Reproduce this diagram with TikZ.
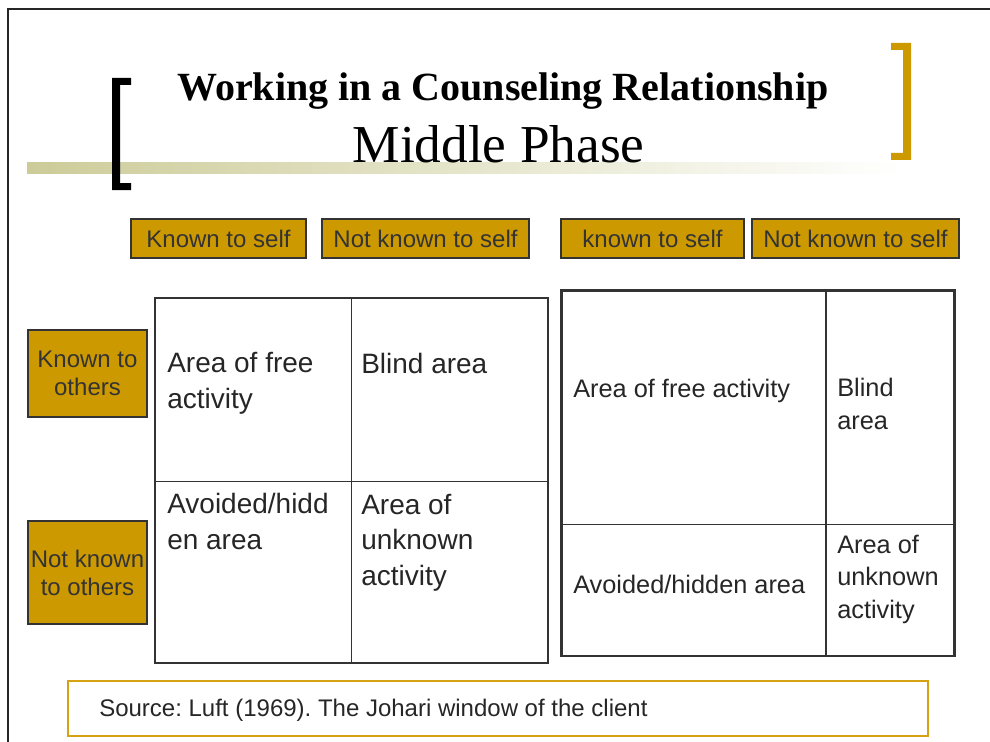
\documentclass[tikz,border=0pt]{standalone}
\usepackage{fontspec}
\setmainfont{Liberation Sans}
\newfontfamily\titlefont{Liberation Serif}
\usepackage{tikz}
\frenchspacing

\definecolor{goldfill}{RGB}{204,153,0}
\definecolor{goldline}{RGB}{214,162,20}
\definecolor{khaki}{RGB}{204,204,153}
\definecolor{edgegray}{RGB}{51,51,51}

\begin{document}
\begin{tikzpicture}
                \tikzset{x={(0.75pt, 0pt)}, y={(0pt, -0.75pt)}}
                \tikzset{labelbox/.style={draw=edgegray, fill=goldfill, line width=1.5pt},
                         lbltext/.style={font=\fontsize{18}{21}\selectfont, text=edgegray, align=center},
                         gridouter/.style={draw=edgegray, line width=2pt},
                         gridinner/.style={draw=edgegray, line width=1.2pt},
                         cellL/.style={anchor=base west, align=left, inner sep=0pt, text=black!85,
                                       font=\fontsize{21}{26.6}\selectfont},
                         cellR/.style={anchor=base west, align=left, inner sep=0pt, text=black!85,
                                       font=\fontsize{19}{24.2}\selectfont}}
                \useasboundingbox (0, 0) rectangle (990, 742);
                % page frame
                \draw[line width=1.5pt, black!85] (990, 9.5) -- (8.3, 9.5) -- (8.3, 742);
                % heading
                \shade[left color=khaki, middle color=khaki!85!white, right color=white] (27, 163) rectangle (905, 174);
                \fill[black] (112, 78) -- (131, 78) -- (131, 85) -- (120, 85) -- (120, 183) -- (131, 183) -- (131, 190) -- (112, 190) -- cycle;
                \fill[goldfill] (911, 43) -- (891, 43) -- (891, 50) -- (903, 50) -- (903, 153) -- (891, 153) -- (891, 160) -- (911, 160) -- cycle;
                \node[anchor=base, font=\titlefont\bfseries\fontsize{30}{36}\selectfont] (title) at (503, 101) {Working in a Counseling Relationship};
                \node[anchor=base, font=\titlefont\fontsize{40}{48}\selectfont] (phase) at (498.5, 162) {Middle Phase};
                % column and row labels
                \draw[labelbox] (131, 219) rectangle (306, 258) node[midway, lbltext] (kself1) {Known to self};
                \draw[labelbox] (322, 219) rectangle (529, 258) node[midway, lbltext] (nkself1) {Not known to self};
                \draw[labelbox] (561, 219) rectangle (744, 258) node[midway, lbltext] (kself2) {known to self};
                \draw[labelbox] (752, 219) rectangle (959, 258) node[midway, lbltext] (nkself2) {Not known to self};
                \draw[labelbox] (28, 330) rectangle (147, 417) node[midway, lbltext] (kothers) {Known to\\others};
                \draw[labelbox] (28, 521) rectangle (147, 624) node[midway, lbltext] (nkothers) {Not known\\to others};
                % left window (base = last line)
                \draw[gridouter] (155, 298) rectangle (548, 663);
                \draw[gridinner] (351.5, 298) -- (351.5, 663);
                \draw[gridinner] (155, 481.5) -- (548, 481.5);
                \node[cellL] (free1) at (167, 408) {Area of free\\activity};
                \node[cellL] (blind1) at (361, 373) {Blind area};
                \node[cellL] (hidden1) at (167, 549) {Avoided/hidd\\en area};
                \node[cellL] (unknown1) at (361, 585) {Area of\\unknown\\activity};
                % right window
                \draw[gridouter] (561.5, 290.5) rectangle (954.5, 656);
                \draw[gridinner] (826, 290.5) -- (826, 656);
                \draw[gridinner] (561.5, 524.5) -- (954.5, 524.5);
                \node[cellR] (free2) at (573, 397) {Area of free activity};
                \node[cellR] (blind2) at (837, 429) {Blind\\area};
                \node[cellR] (hidden2) at (573, 593) {Avoided/hidden area};
                \node[cellR] (unknown2) at (837, 618) {Area of\\unknown\\activity};
                % source
                \draw[goldline, line width=1.5pt] (67.5, 681) rectangle (928, 736);
                \node[anchor=base west, inner sep=0pt, text=black!85, font=\fontsize{18}{21}\selectfont] (source) at (99, 716) {Source: Luft (1969). The Johari window of the client};
            \end{tikzpicture}
\end{document}
